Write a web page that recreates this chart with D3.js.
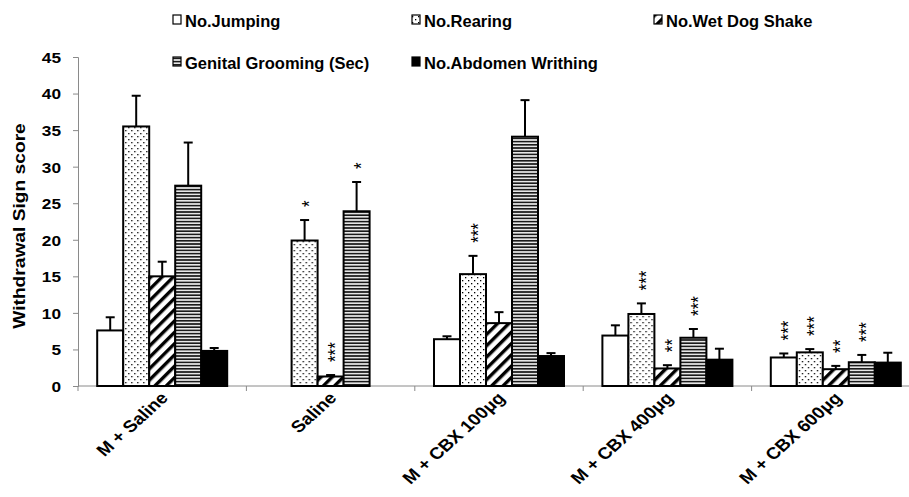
<!DOCTYPE html>
<html><head><meta charset="utf-8">
<script src="https://cdn.jsdelivr.net/npm/d3@7/dist/d3.min.js"></script>
<style>body{margin:0;background:#fff}svg{display:block;font-family:"Liberation Sans",Arial,sans-serif}</style>
</head><body><svg id="c" width="909" height="497"></svg>
<script>
const categories = ["M + Saline", "Saline", "M + CBX 100μg", "M + CBX 400μg", "M + CBX 600μg"];
const seriesNames = ["No.Jumping", "No.Rearing", "No.Wet Dog Shake", "Genital Grooming (Sec)", "No.Abdomen Writhing"];
const jumping     = [7.6, 0, 6.4, 6.9, 3.9];
const jumpingErr  = [1.8, 0, 0.4, 1.4, 0.55];
const rearing     = [35.5, 19.9, 15.3, 9.85, 4.6];
const rearingErr  = [4.2, 2.8, 2.5, 1.45, 0.45];
const wetDog      = [15.0, 1.3, 8.6, 2.4, 2.3];
const wetDogErr   = [2.0, 0.2, 1.5, 0.45, 0.45];
const genital     = [27.4, 23.9, 34.1, 6.6, 3.25];
const genitalErr  = [5.9, 4.0, 5.0, 1.2, 1.0];
const writhing    = [4.8, 0, 4.1, 3.6, 3.2];
const writhingErr = [0.4, 0, 0.4, 1.5, 1.35];
const jumpingSig  = ["", "", "", "", "***"];
const rearingSig  = ["", "*", "***", "***", "***"];
const wetDogSig   = ["", "***", "", "**", "**"];
const genitalSig  = ["", "*", "", "***", "***"];
const writhingSig = ["", "", "", "", ""];
const yTicks = [0, 5, 10, 15, 20, 25, 30, 35, 40, 45];
const yTitle = "Withdrawal Sign score";

const values = [jumping, rearing, wetDog, genital, writhing];
const errs = [jumpingErr, rearingErr, wetDogErr, genitalErr, writhingErr];
const sigs = [jumpingSig, rearingSig, wetDogSig, genitalSig, writhingSig];
const fills = ["#fff", "url(#pDots)", "url(#pDiag)", "url(#pHoriz)", "#000"];
const S = 1.15; // horizontal stretch of the original image

const svg = d3.select("#c");
const defs = svg.append("defs");
const pd = defs.append("pattern").attr("id","pDots").attr("patternUnits","userSpaceOnUse").attr("width",6).attr("height",6);
pd.append("rect").attr("width",6).attr("height",6).attr("fill","#fff");
pd.append("rect").attr("x",1).attr("y",1).attr("width",1.3).attr("height",1.3).attr("fill","#000");
pd.append("rect").attr("x",4).attr("y",4).attr("width",1.3).attr("height",1.3).attr("fill","#000");
const pg = defs.append("pattern").attr("id","pDiag").attr("patternUnits","userSpaceOnUse").attr("width",8).attr("height",8).attr("patternTransform","rotate(45)");
pg.append("rect").attr("width",8).attr("height",8).attr("fill","#fff");
pg.append("rect").attr("width",3.4).attr("height",8).attr("fill","#000");
const ph = defs.append("pattern").attr("id","pHoriz").attr("patternUnits","userSpaceOnUse").attr("width",6).attr("height",3.2);
ph.append("rect").attr("width",6).attr("height",3.2).attr("fill","#e6e6e6");
ph.append("rect").attr("y",0).attr("width",6).attr("height",1.6).attr("fill","#1a1a1a");

const x0 = d3.scaleBand().domain(categories).range([78, 920]).paddingInner(0.228).paddingOuter(0.114);
const x1 = d3.scaleBand().domain(d3.range(seriesNames.length)).range([0, x0.bandwidth()]);
const y = d3.scaleLinear().domain([0, 45]).range([386, 57]);

// axes
const ya = svg.append("g").attr("transform","translate(78,0)")
  .call(d3.axisLeft(y).tickValues(yTicks).tickSize(5).tickPadding(5));
ya.select(".domain").attr("stroke","#8a8a8a");
ya.selectAll(".tick line").attr("stroke","#8a8a8a");
ya.selectAll(".tick text").attr("font-size",15).attr("font-weight","bold").attr("fill","#000")
  .attr("font-family","'Liberation Sans',Arial,sans-serif")
  .attr("x", -17 / S).attr("dy","0.36em").attr("transform", `scale(${S},1)`);

const xa = svg.append("g").attr("transform","translate(0,386)");
xa.append("line").attr("x1",78).attr("x2",909).attr("stroke","#8a8a8a");
const bounds = categories.map(c => x0(c) - x0.step()*x0.paddingInner()/2).concat([x0(categories[4]) + x0.bandwidth() + x0.step()*x0.paddingInner()/2]);
xa.selectAll("line.t").data(bounds).join("line").attr("class","t")
  .attr("x1",d=>d).attr("x2",d=>d).attr("y1",0).attr("y2",5).attr("stroke","#8a8a8a");

// bars
const groups = svg.append("g").selectAll("g").data(categories).join("g")
  .attr("transform", c => `translate(${x0(c)},0)`);
groups.each(function(c, ci) {
  const g = d3.select(this);
  seriesNames.forEach((s, si) => {
    const v = values[si][ci], e = errs[si][ci], bx = x1(si), bw = x1.bandwidth(), cx = bx + bw/2;
    if (e > 0) {
      g.append("line").attr("x1",cx).attr("x2",cx).attr("y1",y(v)).attr("y2",y(v+e)).attr("stroke","#000").attr("stroke-width",2);
      g.append("line").attr("x1",cx-4.5).attr("x2",cx+4.5).attr("y1",y(v+e)).attr("y2",y(v+e)).attr("stroke","#000").attr("stroke-width",2);
    }
    g.append("rect").attr("x",bx).attr("y",y(v)).attr("width",bw).attr("height",y(0)-y(v))
      .attr("fill",fills[si]).attr("stroke","#000").attr("stroke-width",2);
    const sg = sigs[si][ci];
    if (sg) {
      g.append("text").attr("transform",`translate(${cx},${y(v+e)-13}) scale(1.2,1) rotate(-90)`)
        .attr("dy","0.57em").attr("font-size",17).attr("text-anchor","start").text(sg);
    }
  });
});

// x labels
svg.append("g").selectAll("text").data(categories).join("text")
  .attr("transform", c => `translate(${x0(c)+x0.bandwidth()/2+7},399) scale(${S},1) rotate(-46)`)
  .attr("text-anchor","end").attr("font-size",16.5).attr("font-weight","bold")
  .text(c => c);

// y title
svg.append("text").attr("transform",`translate(25,226) scale(1,1.2) rotate(-90)`)
  .attr("text-anchor","middle").attr("font-size",16).attr("font-weight","bold").text(yTitle);

// legend
const legPos = [[173,26.5],[412,26.5],[654,26.5],[173,68.5],[412,68.5]];
seriesNames.forEach((s, i) => {
  const [lx, ly] = legPos[i];
  svg.append("rect").attr("x",lx).attr("y",ly-11.5).attr("width",8).attr("height",9)
    .attr("fill",fills[i]).attr("stroke","#000").attr("stroke-width",1.2);
  svg.append("text").attr("x",lx+12).attr("y",ly)
    .attr("font-size",16.5).attr("font-weight","bold").text(s);
});
</script></body></html>
